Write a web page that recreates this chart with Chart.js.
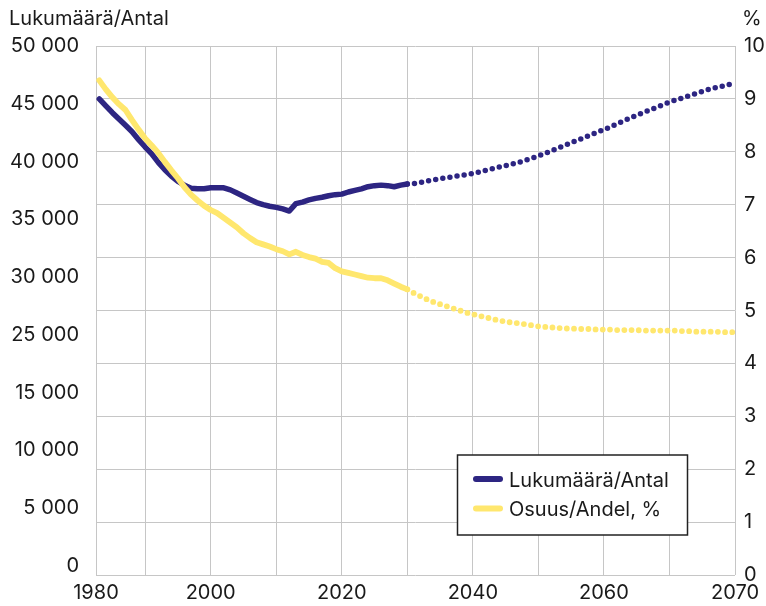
<!DOCTYPE html>
<html><head><meta charset="utf-8">
<script src="https://cdn.jsdelivr.net/npm/chart.js@4.4.1/dist/chart.umd.min.js"></script>
<style>html,body{margin:0;padding:0;background:#fff}canvas{display:block}</style>
</head><body>
<canvas id="c" width="766" height="606"></canvas>
<script>
// ---- data ----
const years = [1973,1974,1975,1976,1977,1978,1979,1980,1981,1982,1983,1984,1985,1986,1987,1988,1989,1990,1991,1992,1993,1994,1995,1996,1997,1998,1999,2000,2001,2002,2003,2004,2005,2006,2007,2008,2009,2010,2011,2012,2013,2014,2015,2016,2017,2018,2019,2020,2021,2022,2023,2024,2025,2026,2027,2028,2029,2030,2031,2032,2033,2034,2035,2036,2037,2038,2039,2040,2041,2042,2043,2044,2045,2046,2047,2048,2049,2050,2051,2052,2053,2054,2055,2056,2057,2058,2059,2060,2061,2062,2063,2064,2065,2066,2067,2068,2069,2070];
const countValues = [45000,44350,43700,43100,42500,41900,41150,40450,39800,39000,38300,37700,37200,36850,36550,36500,36500,36600,36600,36600,36400,36100,35800,35500,35200,35000,34850,34750,34600,34400,35100,35250,35450,35600,35700,35850,35950,36000,36200,36350,36500,36700,36800,36850,36800,36700,36850,36950,37000,37100,37250,37350,37450,37550,37650,37750,37850,37950,38100,38250,38400,38550,38700,38850,39000,39200,39400,39600,39850,40100,40350,40600,40850,41100,41350,41600,41850,42100,42350,42650,42900,43200,43450,43700,43950,44200,44450,44700,44900,45100,45300,45500,45700,45900,46050,46200,46350,46500];
const shareValues = [9.35,9.18,9.03,8.90,8.79,8.60,8.42,8.25,8.12,7.98,7.81,7.65,7.50,7.33,7.19,7.08,6.98,6.90,6.84,6.75,6.66,6.57,6.46,6.37,6.29,6.25,6.21,6.16,6.12,6.06,6.11,6.05,6.01,5.98,5.92,5.90,5.80,5.74,5.71,5.68,5.65,5.62,5.61,5.61,5.57,5.51,5.45,5.40,5.33,5.27,5.21,5.16,5.12,5.08,5.04,5.00,4.96,4.93,4.90,4.87,4.84,4.81,4.79,4.77,4.76,4.74,4.72,4.70,4.69,4.68,4.67,4.66,4.66,4.65,4.65,4.65,4.64,4.64,4.64,4.63,4.63,4.63,4.63,4.62,4.62,4.62,4.62,4.62,4.62,4.61,4.61,4.60,4.60,4.60,4.60,4.59,4.59,4.59];
const forecastFrom = 2020;
const seriesNames = ['Lukumäärä/Antal', 'Osuus/Andel, %'];
const leftAxisTitle = 'Lukumäärä/Antal';
const rightAxisTitle = '%';
const leftTickLabels = ['50 000','45 000','40 000','35 000','30 000','25 000','15 000','10 000','5 000','0'];
const xGridYears = [1972.5,1980,1990,2000,2010,2020,2030,2040,2050,2060,2070];
const xTickLabels = ['1980','','2000','','2020','','2040','','2060','','2070'];

// ---- style ----
const BLUE = '#2d2582';
const YELLOW = '#ffe76e';
const GRID = '#c6c6c6';
const TEXT = '#1a1a1a';
const FONT = 'Inter';
const FS = 20;

const countPts = years.map((y, i) => ({x: y, y: countValues[i]}));
const sharePts = years.map((y, i) => ({x: y, y: shareValues[i]}));
const dotted = ctx => (ctx.p0.parsed.x >= forecastFrom ? [0, 7.2] : []);

const overlay = {
  id: 'overlay',
  afterDraw(chart) {
    const c = chart.ctx;
    c.save();
    c.fillStyle = TEXT;
    c.font = FS + 'px ' + FONT;
    c.textBaseline = 'alphabetic';
    c.textAlign = 'left';
    c.fillText(leftAxisTitle, 9, 25);
    c.fillText(rightAxisTitle, 742, 25);
    // legend
    const bx = 457.5, by = 455, bw = 230, bh = 80;
    c.fillStyle = '#fff';
    c.fillRect(bx, by, bw, bh);
    c.strokeStyle = '#222';
    c.lineWidth = 1.5;
    c.strokeRect(bx, by, bw, bh);
    const items = [[seriesNames[0], BLUE, 479, 486.5], [seriesNames[1], YELLOW, 508.5, 516]];
    items.forEach(([t, col, ly, ty]) => {
      c.strokeStyle = col;
      c.lineWidth = 6;
      c.lineCap = 'round';
      c.beginPath();
      c.moveTo(476, ly);
      c.lineTo(500, ly);
      c.stroke();
      c.fillStyle = TEXT;
      c.font = FS + 'px ' + FONT;
      c.fillText(t, 509, ty);
    });
    c.restore();
  }
};

new Chart(document.getElementById('c'), {
  type: 'line',
  data: {
    datasets: [
      {label: seriesNames[0], data: countPts, yAxisID: 'y', borderColor: BLUE, borderWidth: 5.5,
       borderCapStyle: 'round', borderJoinStyle: 'round', pointRadius: 0, tension: 0, order: 2,
       segment: {borderDash: dotted}},
      {label: seriesNames[1], data: sharePts, yAxisID: 'y1', borderColor: YELLOW, borderWidth: 5.8,
       borderCapStyle: 'round', borderJoinStyle: 'round', pointRadius: 0, tension: 0, order: 1,
       segment: {borderDash: dotted}}
    ]
  },
  options: {
    responsive: false,
    animation: false,
    devicePixelRatio: 1,
    layout: {padding: {top: 46, left: 0, right: 0, bottom: 0}},
    plugins: {legend: {display: false}, tooltip: {enabled: false}},
    scales: {
      x: {
        type: 'linear',
        min: xGridYears[0], max: xGridYears[xGridYears.length - 1],
        afterBuildTicks: s => { s.ticks = xGridYears.map(v => ({value: v})); },
        afterFit: s => { s.height = 31; },
        grid: {color: GRID, lineWidth: 1, drawTicks: false},
        border: {display: false},
        ticks: {
          autoSkip: false, maxRotation: 0, padding: 6, color: TEXT,
          font: {family: FONT, size: FS},
          callback: (v, i) => xTickLabels[i]
        }
      },
      y: {
        position: 'left', min: 0, max: 50000,
        afterBuildTicks: s => {
          const n = leftTickLabels.length - 1;
          s.ticks = leftTickLabels.map((l, i) => ({value: 50000 - i * (50000 - 850) / n}));
        },
        afterFit: s => { s.width = 96; },
        grid: {display: false, drawTicks: false},
        border: {display: false},
        ticks: {
          autoSkip: false, padding: 17, color: TEXT,
          font: {family: FONT, size: FS},
          callback: (v, i) => leftTickLabels[i]
        }
      },
      y1: {
        position: 'right', min: 0, max: 10,
        afterFit: s => { s.width = 31; },
        grid: {color: GRID, lineWidth: 1, drawTicks: false},
        border: {display: false},
        ticks: {stepSize: 1, autoSkip: false, padding: 9, color: TEXT, font: {family: FONT, size: FS}}
      }
    }
  },
  plugins: [overlay]
});
</script>
</body></html>
